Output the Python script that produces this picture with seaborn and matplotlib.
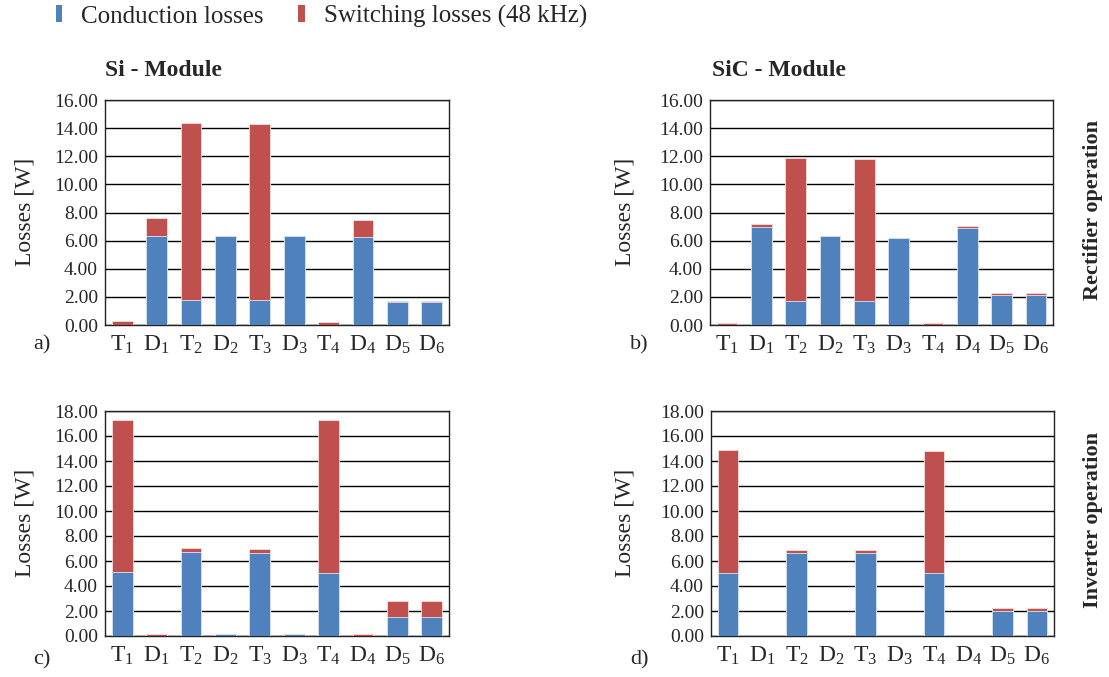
import numpy as np
import pandas as pd
import matplotlib
matplotlib.use("Agg")
import matplotlib.pyplot as plt
from matplotlib.patches import Patch
import seaborn as sns

# ---------------- data ----------------
components = ["T1", "D1", "T2", "D2", "T3", "D3", "T4", "D4", "D5", "D6"]
tick_labels = [r"$\mathrm{T}_{1}$", r"$\mathrm{D}_{1}$", r"$\mathrm{T}_{2}$", r"$\mathrm{D}_{2}$",
               r"$\mathrm{T}_{3}$", r"$\mathrm{D}_{3}$", r"$\mathrm{T}_{4}$", r"$\mathrm{D}_{4}$",
               r"$\mathrm{D}_{5}$", r"$\mathrm{D}_{6}$"]

# a) Si module, rectifier operation
si_rect_cond = [0.03, 6.35, 1.76, 6.35, 1.76, 6.30, 0.02, 6.28, 1.66, 1.66]
si_rect_sw = [0.28, 1.26, 12.62, 0.00, 12.53, 0.00, 0.22, 1.21, 0.08, 0.08]
# b) SiC module, rectifier operation
sic_rect_cond = [0.02, 7.00, 1.68, 6.31, 1.68, 6.22, 0.02, 6.88, 2.15, 2.15]
sic_rect_sw = [0.10, 0.16, 10.21, 0.00, 10.12, 0.00, 0.10, 0.16, 0.10, 0.10]
# c) Si module, inverter operation
si_inv_cond = [5.15, 0.03, 6.76, 0.15, 6.62, 0.15, 5.05, 0.03, 1.52, 1.52]
si_inv_sw = [12.10, 0.16, 0.32, 0.02, 0.32, 0.02, 12.20, 0.16, 1.31, 1.31]
# d) SiC module, inverter operation
sic_inv_cond = [5.08, 0.00, 6.67, 0.00, 6.67, 0.00, 5.08, 0.00, 1.99, 1.99]
sic_inv_sw = [9.81, 0.00, 0.22, 0.00, 0.22, 0.00, 9.71, 0.00, 0.22, 0.22]

legend_labels = ["Conduction losses", "Switching losses (48 kHz)"]
y_label = "Losses [W]"

# ---------------- style ----------------
sns.set_style("white")
plt.rcParams["font.family"] = ["Liberation Serif", "DejaVu Serif"]
plt.rcParams["mathtext.fontset"] = "custom"
plt.rcParams["mathtext.rm"] = "Liberation Serif"
plt.rcParams["mathtext.it"] = "Liberation Serif:italic"
plt.rcParams["mathtext.bf"] = "Liberation Serif:bold"

BLUE = "#4F81BD"
RED = "#C0504D"
W, H = 1109, 677

fig = plt.figure(figsize=(W / 100, H / 100), dpi=100)


def px_axes(left, top, right, bottom):
    return fig.add_axes([left / W, 1 - bottom / H, (right - left) / W, (bottom - top) / H])


panels = [
    (px_axes(105, 100, 449, 325), si_rect_cond, si_rect_sw, 16),
    (px_axes(710, 100, 1053, 325), sic_rect_cond, sic_rect_sw, 16),
    (px_axes(105, 411, 449, 636), si_inv_cond, si_inv_sw, 18),
    (px_axes(711, 411, 1054, 636), sic_inv_cond, sic_inv_sw, 18),
]

for ax, cond, sw, ymax in panels:
    df = pd.DataFrame({"component": components,
                       "cond": cond,
                       "total": np.array(cond) + np.array(sw)})
    sns.barplot(data=df, x="component", y="total", color=RED, saturation=1,
                width=0.6, edgecolor="#f3dede", linewidth=0.6, ax=ax, zorder=3)
    sns.barplot(data=df, x="component", y="cond", color=BLUE, saturation=1,
                width=0.6, edgecolor="#dce6f2", linewidth=0.6, ax=ax, zorder=4)
    ax.set_ylim(0, ymax)
    ax.set_xlim(-0.5, len(components) - 0.5)
    ax.set_yticks(np.arange(0, ymax + 0.1, 2))
    ax.set_yticklabels([f"{v:.2f}" for v in np.arange(0, ymax + 0.1, 2)], fontsize=14)
    ax.set_xticks(range(len(components)))
    ax.set_xticklabels(tick_labels, fontsize=17)
    ax.tick_params(axis="both", length=0)
    ax.tick_params(axis="y", pad=5)
    ax.tick_params(axis="x", pad=6)
    ax.set_xlabel("")
    ax.set_ylabel("")
    ax.yaxis.grid(True, color="black", linewidth=1.0, zorder=0)
    ax.set_axisbelow(True)
    for s in ax.spines.values():
        s.set_visible(True)
        s.set_color("#222222")
        s.set_linewidth(1.0)

# y-axis labels
for x, yc in [(25, 212), (625, 212), (25, 523), (625, 523)]:
    fig.text(x / W, 1 - yc / H, y_label, rotation=90, ha="center", va="center", fontsize=17)

# column titles
fig.text(105 / W, 1 - 70 / H, "Si - Module", ha="left", va="center", fontsize=17, fontweight="bold")
fig.text(712 / W, 1 - 70 / H, "SiC - Module", ha="left", va="center", fontsize=17, fontweight="bold")

# row labels
fig.text(1093 / W, 1 - 210 / H, "Rectifier operation", rotation=90, ha="center", va="center",
         fontsize=16, fontweight="bold")
fig.text(1093 / W, 1 - 520 / H, "Inverter operation", rotation=90, ha="center", va="center",
         fontsize=16, fontweight="bold")

# panel letters
for x, y, t in [(33, 345, "a)"), (630, 345, "b)"), (33, 660, "c)"), (630, 660, "d)")]:
    fig.text(x / W, 1 - y / H, t, ha="left", va="center", fontsize=16)

# legend
handles = [Patch(facecolor=BLUE, edgecolor="none"), Patch(facecolor=RED, edgecolor="none")]
fig.legend(handles, legend_labels, loc="upper left", bbox_to_anchor=(33 / W, 1.026),
           ncol=2, frameon=False, fontsize=18, handlelength=0.26, handleheight=0.65,
           handletextpad=0.75, columnspacing=1.4)

fig.savefig("out.png", dpi=100)
